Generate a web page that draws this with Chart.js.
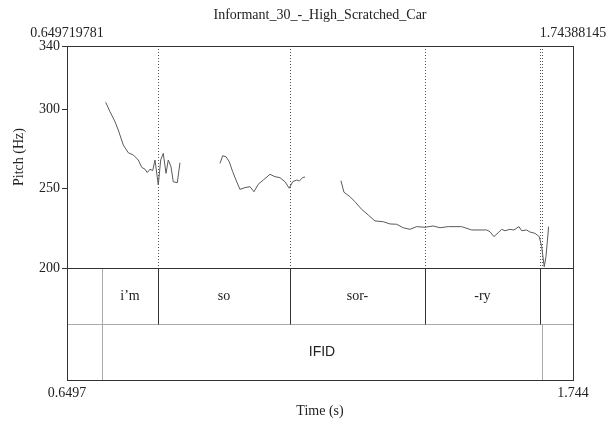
<!DOCTYPE html>
<html>
<head>
<meta charset="utf-8">
<title>Informant_30_-_High_Scratched_Car</title>
<script src="https://cdn.jsdelivr.net/npm/chart.js@4.4.1/dist/chart.umd.min.js"></script>
<style>
  html, body { margin: 0; padding: 0; background: #fff; }
</style>
</head>
<body>
<canvas id="pitch" width="614" height="424"></canvas>
<script>
// time window of the selection (s)
const tMin = 0.649719781;
const tMax = 1.74388145;

// pitch axis
const pitchTicks = [200, 250, 300, 340];
const pitchMin = 129.4; // leaves room under 200 Hz for the two text tiers

// voiced stretches of the pitch track
const seg1Times = [0.7334, 0.7427, 0.7535, 0.7606, 0.7714, 0.7822, 0.7931, 0.8039, 0.8112, 0.8183,
  0.8233, 0.8292, 0.8350, 0.8400, 0.8471, 0.8523, 0.8579, 0.8638, 0.8687, 0.8746, 0.8795, 0.8882, 0.8940];
const seg1Pitch = [304.5, 298.6, 292.3, 287.0, 277.6, 272.7, 271.3, 268.1, 263.5, 262.3,
  260.2, 262.3, 261.4, 268.1, 252.4, 268.1, 272.3, 259.7, 268.1, 263.9, 254.4, 253.8, 266.4];

const seg2Times = [0.9805, 0.9864, 0.9935, 1.0006, 1.0080, 1.0151, 1.0237, 1.0346, 1.0454, 1.0540,
  1.0633, 1.0741, 1.0886, 1.0994, 1.1102, 1.1211, 1.1303, 1.1377, 1.1463, 1.1520, 1.1593, 1.1643];
const seg2Pitch = [266.0, 270.8, 270.2, 267.0, 260.7, 255.5, 249.6, 250.7, 251.3, 248.1,
  252.8, 255.5, 259.1, 257.6, 257.0, 254.4, 250.3, 254.4, 255.5, 254.9, 257.0, 257.4];

const seg3Times = [1.2421, 1.2486, 1.2616, 1.2724, 1.2869, 1.3012, 1.3156, 1.3336, 1.3481, 1.3626,
  1.3768, 1.3913, 1.4058, 1.4238, 1.4417, 1.4562, 1.4741, 1.5031, 1.5247, 1.5572,
  1.5643, 1.5729, 1.5822, 1.5896, 1.5967, 1.6075, 1.6162, 1.6270, 1.6328, 1.6437,
  1.6508, 1.6616, 1.6709, 1.6761, 1.6817, 1.6854, 1.6912];
const seg3Pitch = [255.1, 247.8, 245.0, 241.8, 237.0, 233.4, 229.7, 229.2, 227.8, 227.6,
  225.4, 224.4, 226.1, 225.7, 226.5, 225.4, 226.1, 226.1, 224.0, 224.0,
  222.9, 219.8, 222.3, 224.4, 223.5, 224.4, 224.0, 226.1, 223.5, 224.0,
  222.7, 221.9, 219.8, 213.5, 200.8, 207.1, 226.1];

// TextGrid: tier 1 (words), tier 2 (IFID)
const wordBounds = [0.7254, 0.8465, 1.1319, 1.4238, 1.6724];
const wordLabels = ["i\u2019m", "so", "sor-", "-ry"];
const ifidBounds = [0.7254, 1.6768];
const ifidLabels = ["IFID"];

const serif = "'Liberation Serif', 'Times New Roman', serif";
const ink = '#222';

function toPoints(times, values) {
  return times.map((t, i) => ({ x: t, y: values[i] }));
}

function line(ctx, x1, y1, x2, y2) {
  ctx.beginPath();
  ctx.moveTo(x1, y1);
  ctx.lineTo(x2, y2);
  ctx.stroke();
}

// dotted boundary lines over the pitch area, drawn under the track
const boundaryPlugin = {
  id: 'boundaries',
  beforeDatasetsDraw(chart) {
    const { ctx, chartArea: a, scales: { x, y } } = chart;
    const y200 = y.getPixelForValue(200);
    ctx.save();
    ctx.strokeStyle = '#555';
    ctx.lineWidth = 1;
    ctx.setLineDash([1, 2]);
    wordBounds.slice(1).concat(ifidBounds.slice(1)).forEach(t => {
      const px = Math.round(x.getPixelForValue(t)) + 0.5;
      line(ctx, px, a.top, px, y200);
    });
    ctx.restore();
  }
};

// tiers, frame and the pitch axis title
const tierPlugin = {
  id: 'tiers',
  afterDatasetsDraw(chart) {
    const { ctx, chartArea: a, scales: { x, y } } = chart;
    const y200 = Math.round(y.getPixelForValue(200)) + 0.5;
    const ySplit = Math.round((y200 + a.bottom) / 2) + 0.5;
    const px = t => Math.round(x.getPixelForValue(t)) + 0.5;

    ctx.save();
    ctx.lineWidth = 1;

    // tier separator
    ctx.strokeStyle = '#aaa';
    line(ctx, a.left, ySplit, a.right, ySplit);

    // tier 2 boundaries
    ifidBounds.forEach(t => line(ctx, px(t), ySplit, px(t), a.bottom));
    // first word boundary is shared with tier 2
    line(ctx, px(wordBounds[0]), y200, px(wordBounds[0]), ySplit);

    // tier 1 boundaries
    ctx.strokeStyle = '#333';
    wordBounds.slice(1).forEach(t => line(ctx, px(t), y200, px(t), ySplit));

    // bottom of the pitch area
    line(ctx, a.left, y200, a.right, y200);

    // frame
    ctx.strokeStyle = '#333';
    ctx.strokeRect(Math.round(a.left) + 0.5, Math.round(a.top) + 0.5,
      Math.round(a.right - a.left), Math.round(a.bottom - a.top));

    // interval labels
    ctx.fillStyle = ink;
    ctx.textAlign = 'center';
    ctx.textBaseline = 'middle';
    ctx.font = '14px ' + serif;
    wordLabels.forEach((lab, i) => {
      const cx = (x.getPixelForValue(wordBounds[i]) + x.getPixelForValue(wordBounds[i + 1])) / 2;
      ctx.fillText(lab, cx, (y200 + ySplit) / 2);
    });
    ctx.font = "14px 'Liberation Sans', Arial, sans-serif";
    ifidLabels.forEach((lab, i) => {
      const cx = (x.getPixelForValue(ifidBounds[i]) + x.getPixelForValue(ifidBounds[i + 1])) / 2;
      ctx.fillText(lab, cx, (ySplit + a.bottom) / 2);
    });

    // axis title, centred on the pitch range only
    ctx.font = '14px ' + serif;
    ctx.translate(19, y.getPixelForValue((200 + 340) / 2));
    ctx.rotate(-Math.PI / 2);
    ctx.fillText('Pitch (Hz)', 0, 0);
    ctx.restore();
  }
};

const trackStyle = {
  showLine: true,
  borderColor: '#5a5a5a',
  borderWidth: 1,
  pointRadius: 0,
  tension: 0,
  fill: false
};

new Chart(document.getElementById('pitch'), {
  type: 'scatter',
  data: {
    datasets: [
      { data: toPoints(seg1Times, seg1Pitch), ...trackStyle },
      { data: toPoints(seg2Times, seg2Pitch), ...trackStyle },
      { data: toPoints(seg3Times, seg3Pitch), ...trackStyle }
    ]
  },
  options: {
    responsive: false,
    animation: false,
    devicePixelRatio: 1,
    layout: { padding: { left: 0, right: 41, top: 0, bottom: 0 } },
    plugins: {
      legend: { display: false },
      tooltip: { enabled: false }
    },
    scales: {
      x: {
        type: 'linear',
        position: 'bottom',
        min: tMin,
        max: tMax,
        grid: { display: false, drawTicks: false },
        border: { display: false },
        ticks: {
          color: ink,
          font: { family: serif, size: 14 },
          padding: 5,
          maxRotation: 0,
          autoSkip: false,
          callback: v => Number(v).toPrecision(4)
        },
        title: {
          display: true,
          text: 'Time (s)',
          color: ink,
          font: { family: serif, size: 14 },
          padding: { top: 0, bottom: 4 }
        },
        afterBuildTicks: s => { s.ticks = [{ value: tMin }, { value: tMax }]; },
        afterFit: s => { s.height = 44; s.paddingLeft = 0; s.paddingRight = 0; }
      },
      x2: {
        type: 'linear',
        axis: 'x',
        position: 'top',
        min: tMin,
        max: tMax,
        grid: { display: false, drawTicks: false },
        border: { display: false },
        ticks: {
          color: ink,
          font: { family: serif, size: 14 },
          padding: 4,
          maxRotation: 0,
          autoSkip: false,
          callback: v => String(v)
        },
        title: {
          display: true,
          text: 'Informant_30_-_High_Scratched_Car',
          color: ink,
          font: { family: serif, size: 14 },
          padding: { top: 7, bottom: 2 }
        },
        afterBuildTicks: s => { s.ticks = [{ value: tMin }, { value: tMax }]; },
        afterFit: s => { s.height = 46; s.paddingLeft = 0; s.paddingRight = 0; }
      },
      y: {
        type: 'linear',
        min: pitchMin,
        max: 340,
        grid: { drawOnChartArea: false, drawTicks: true, tickLength: 5, color: '#333' },
        border: { display: false },
        ticks: {
          color: ink,
          font: { family: serif, size: 14 },
          padding: 2,
          autoSkip: false
        },
        afterBuildTicks: s => { s.ticks = pitchTicks.map(v => ({ value: v })); },
        afterFit: s => { s.width = 67; s.paddingTop = 0; s.paddingBottom = 0; }
      }
    }
  },
  plugins: [boundaryPlugin, tierPlugin]
});
</script>
</body>
</html>
